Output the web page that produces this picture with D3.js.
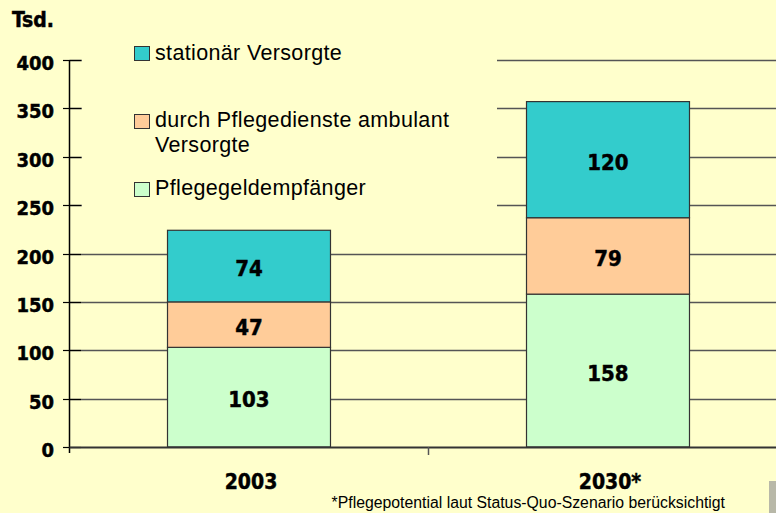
<!DOCTYPE html>
<html><head><meta charset="utf-8">
<script src="https://cdn.jsdelivr.net/npm/d3@7"></script>
<style>html,body{margin:0;padding:0;background:#FFFFCC;}svg{display:block;}</style>
</head><body>
<script>
const categories = ["2003", "2030*"];
const seriesNames = ["Pflegegeldempfänger", "durch Pflegedienste ambulant Versorgte", "stationär Versorgte"];
const pflegegeld = [103, 158];
const ambulant = [47, 79];
const stationaer = [74, 120];
const yTicks = [0, 50, 100, 150, 200, 250, 300, 350, 400];
const colors = ["#CCFFCC", "#FFCC99", "#33CCCC"];

const W = 776, H = 513;
const boldFont = "'DejaVu Sans Condensed', 'DejaVu Sans', sans-serif";
const svg = d3.select("body").append("svg").attr("width", W).attr("height", H);
svg.append("rect").attr("width", W).attr("height", H).attr("fill", "#FFFFCC");

const x0 = 69.5, y0 = 447;
const y = d3.scaleLinear().domain([0, 400]).range([y0, 60]);
const x = d3.scaleBand().domain(categories).range([x0, x0 + 718]).paddingInner(0.546).paddingOuter(0.273);

function heavy(sel) {
  return sel.attr("font-family", boldFont).attr("font-weight", "bold")
    .attr("fill", "#000").attr("stroke", "#000").attr("stroke-width", 0.45);
}

// gridlines
svg.append("g").selectAll("line").data(yTicks.filter(t => t > 0)).join("line")
  .attr("x1", x0).attr("x2", W).attr("y1", d => Math.round(y(d)) + 0.5).attr("y2", d => Math.round(y(d)) + 0.5)
  .attr("stroke", "#555").attr("stroke-width", 1.5);

// legend background covering gridlines
svg.append("rect").attr("x", 82).attr("y", 30).attr("width", 415).attr("height", 198).attr("fill", "#FFFFCC");

// stacked bars
const table = categories.map((c, i) => ({cat: c, s0: pflegegeld[i], s1: ambulant[i], s2: stationaer[i]}));
const stack = d3.stack().keys(["s0", "s1", "s2"])(table);
stack.forEach((layer, li) => {
  const g = svg.append("g");
  g.selectAll("rect").data(layer).join("rect")
    .attr("x", d => x(d.data.cat)).attr("width", x.bandwidth())
    .attr("y", d => y(d[1])).attr("height", d => y(d[0]) - y(d[1]))
    .attr("fill", colors[li]).attr("stroke", "#333").attr("stroke-width", 1.2);
  heavy(g.selectAll("text").data(layer).join("text"))
    .attr("x", d => x(d.data.cat) + x.bandwidth() / 2)
    .attr("y", d => (y(d[0]) + y(d[1])) / 2 + 10)
    .attr("text-anchor", "middle")
    .attr("font-size", 22)
    .text(d => d[1] - d[0]);
});

// y axis
const yAxis = svg.append("g");
yAxis.append("line").attr("x1", x0).attr("x2", x0).attr("y1", 60).attr("y2", y0 + 6).attr("stroke", "#000").attr("stroke-width", 1.5);
yAxis.selectAll("line.t").data(yTicks).join("line").attr("class", "t")
  .attr("x1", 63).attr("x2", 81).attr("y1", d => Math.round(y(d)) + 0.5).attr("y2", d => Math.round(y(d)) + 0.5)
  .attr("stroke", "#000").attr("stroke-width", 1.2);
heavy(yAxis.selectAll("text").data(yTicks).join("text"))
  .attr("x", 54).attr("y", d => y(d) + 10).attr("text-anchor", "end")
  .attr("font-size", 20)
  .text(d => d);

// x axis
svg.append("line").attr("x1", x0).attr("x2", W).attr("y1", y0 + 0.5).attr("y2", y0 + 0.5).attr("stroke", "#333").attr("stroke-width", 2.2);
svg.append("line").attr("x1", x0 + 359).attr("x2", x0 + 359).attr("y1", y0).attr("y2", y0 + 8).attr("stroke", "#555").attr("stroke-width", 1.5);
heavy(svg.append("g").selectAll("text").data(categories).join("text"))
  .attr("x", d => x(d) + x.bandwidth() / 2 + 2).attr("y", 489).attr("text-anchor", "middle")
  .attr("font-size", 21)
  .text(d => d);

// unit label
heavy(svg.append("text")).attr("x", 12).attr("y", 27).attr("font-size", 21).text("Tsd.");

// legend
const legendItems = [
  {lines: ["stationär Versorgte"], color: colors[2], y: 53},
  {lines: ["durch Pflegedienste ambulant", "Versorgte"], color: colors[1], y: 120.5},
  {lines: ["Pflegegeldempfänger"], color: colors[0], y: 188.5}
];
const lg = svg.append("g");
legendItems.forEach(it => {
  lg.append("rect").attr("x", 134.5).attr("y", Math.round(it.y - 7) + 0.5).attr("width", 15).attr("height", 14)
    .attr("fill", it.color).attr("stroke", "#333").attr("stroke-width", 1);
  it.lines.forEach((l, k) => {
    lg.append("text").attr("x", 155).attr("y", it.y + 6.5 + k * 25)
      .attr("font-family", "Liberation Sans").attr("font-size", 21.5).attr("letter-spacing", 0.35)
      .attr("fill", "#000").text(l);
  });
});

// footnote
svg.append("text").attr("x", 725).attr("y", 508).attr("text-anchor", "end")
  .attr("font-family", "Liberation Sans").attr("font-size", 15.8).text("*Pflegepotential laut Status-Quo-Szenario berücksichtigt");

// corner artifact
svg.append("rect").attr("x", 769).attr("y", 481).attr("width", 7).attr("height", 32).attr("fill", "#B8B8A8");
</script>
</body></html>
